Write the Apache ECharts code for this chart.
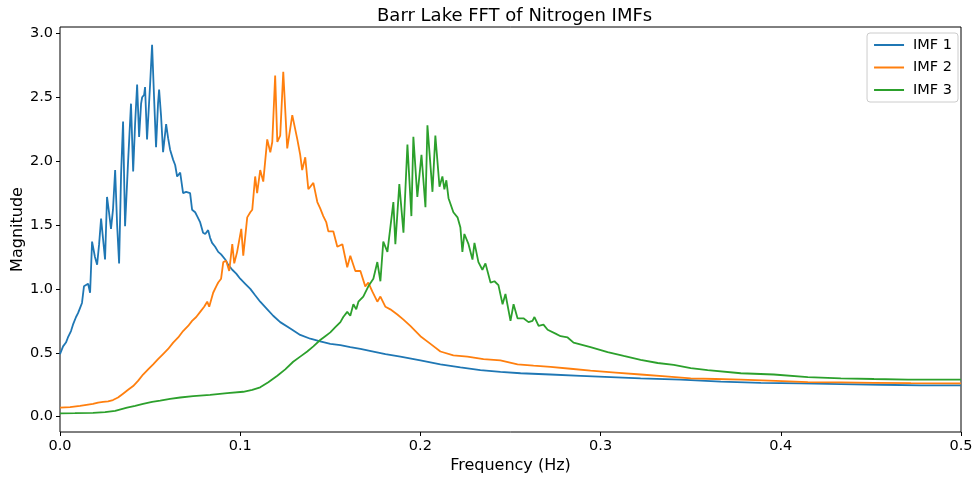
<!DOCTYPE html>
<html>
<head>
<meta charset="utf-8">
<script src="https://cdn.jsdelivr.net/npm/echarts@6/dist/echarts.min.js"></script>
<style>
  html, body { margin: 0; padding: 0; background: #fff; }
  #chart { width: 976px; height: 482px; }
</style>
</head>
<body>
<div id="chart"></div>
<script>
// ---- Data ----
const titleText = 'Barr Lake FFT of Nitrogen IMFs';
const xAxisTitle = 'Frequency (Hz)';
const yAxisTitle = 'Magnitude';
const seriesNames = ['IMF 1', 'IMF 2', 'IMF 3'];
const xTicks = [0, 0.1, 0.2, 0.3, 0.4, 0.5];
const yTicks = [0, 0.5, 1.0, 1.5, 2.0, 2.5, 3.0];

const imf1Freq = [0.0000,0.0017,0.0033,0.0044,0.0061,0.0072,0.0089,0.0100,0.0111,0.0122,0.0133,0.0144,0.0156,0.0167,0.0178,0.0194,0.0206,0.0217,0.0228,0.0239,0.0250,0.0261,0.0272,0.0283,0.0294,0.0306,0.0317,0.0328,0.0339,0.0350,0.0361,0.0378,0.0394,0.0406,0.0417,0.0428,0.0439,0.0450,0.0456,0.0467,0.0472,0.0483,0.0500,0.0511,0.0522,0.0533,0.0544,0.0550,0.0561,0.0572,0.0589,0.0600,0.0611,0.0628,0.0639,0.0650,0.0667,0.0683,0.0700,0.0722,0.0733,0.0750,0.0761,0.0778,0.0794,0.0806,0.0822,0.0833,0.0844,0.0861,0.0878,0.0894,0.0917,0.0933,0.0956,0.0978,0.1000,0.1028,0.1056,0.1083,0.1111,0.1144,0.1183,0.1222,0.1278,0.1333,0.1389,0.1444,0.1500,0.1556,0.1611,0.1667,0.1739,0.1806,0.1889,0.2000,0.2111,0.2222,0.2333,0.2444,0.2556,0.2722,0.2889,0.3056,0.3222,0.3444,0.3667,0.3889,0.4111,0.4333,0.4556,0.4778,0.5000];
const imf1Mag = [0.49,0.55,0.58,0.62,0.67,0.72,0.78,0.81,0.85,0.89,1.02,1.01,1.04,0.97,1.37,1.25,1.19,1.35,1.55,1.56,1.23,1.72,1.60,1.47,1.62,1.93,1.50,1.20,1.90,2.31,1.49,2.00,2.45,1.92,2.30,2.60,2.19,2.45,2.50,2.52,2.58,2.17,2.60,2.91,2.50,2.11,2.45,2.56,2.35,2.07,2.29,2.18,2.09,2.01,1.97,1.88,1.91,1.75,1.76,1.75,1.62,1.60,1.57,1.52,1.44,1.43,1.46,1.40,1.36,1.33,1.29,1.27,1.23,1.19,1.15,1.12,1.08,1.04,1.00,0.95,0.90,0.85,0.79,0.74,0.69,0.64,0.61,0.59,0.57,0.56,0.545,0.53,0.51,0.49,0.47,0.44,0.41,0.385,0.365,0.35,0.34,0.33,0.32,0.31,0.30,0.29,0.275,0.265,0.26,0.255,0.25,0.245,0.245];

const imf2Freq = [0.0000,0.0056,0.0111,0.0156,0.0183,0.0211,0.0239,0.0267,0.0294,0.0322,0.0350,0.0378,0.0406,0.0433,0.0461,0.0489,0.0517,0.0544,0.0572,0.0600,0.0628,0.0656,0.0683,0.0711,0.0733,0.0756,0.0778,0.0800,0.0817,0.0828,0.0850,0.0867,0.0878,0.0894,0.0906,0.0922,0.0939,0.0956,0.0967,0.0983,0.1006,0.1017,0.1039,0.1056,0.1067,0.1083,0.1094,0.1111,0.1128,0.1150,0.1167,0.1178,0.1194,0.1206,0.1222,0.1239,0.1261,0.1289,0.1317,0.1333,0.1344,0.1361,0.1378,0.1406,0.1428,0.1444,0.1461,0.1478,0.1489,0.1517,0.1539,0.1567,0.1594,0.1611,0.1639,0.1667,0.1694,0.1711,0.1733,0.1761,0.1778,0.1806,0.1833,0.1872,0.1906,0.1944,0.2000,0.2056,0.2111,0.2183,0.2261,0.2350,0.2444,0.2539,0.2628,0.2722,0.2833,0.2944,0.3083,0.3222,0.3361,0.3500,0.3639,0.3778,0.3972,0.4150,0.4333,0.4517,0.4722,0.5000];
const imf2Mag = [0.07,0.075,0.085,0.095,0.10,0.11,0.115,0.12,0.13,0.15,0.18,0.21,0.24,0.28,0.33,0.37,0.41,0.45,0.49,0.53,0.58,0.62,0.67,0.71,0.75,0.78,0.82,0.86,0.90,0.86,0.97,1.02,1.05,1.08,1.21,1.22,1.14,1.35,1.20,1.29,1.47,1.26,1.56,1.60,1.62,1.88,1.75,1.93,1.84,2.17,2.07,2.15,2.67,2.15,2.20,2.70,2.10,2.36,2.17,2.05,1.93,2.03,1.78,1.83,1.68,1.63,1.57,1.52,1.45,1.45,1.33,1.35,1.17,1.26,1.14,1.14,1.02,1.05,0.98,0.90,0.94,0.86,0.84,0.80,0.76,0.71,0.63,0.57,0.51,0.48,0.47,0.45,0.44,0.41,0.40,0.39,0.375,0.36,0.345,0.33,0.315,0.30,0.295,0.29,0.28,0.27,0.268,0.265,0.262,0.26];

const imf3Freq = [0.0000,0.0083,0.0183,0.0250,0.0306,0.0372,0.0417,0.0461,0.0511,0.0556,0.0611,0.0667,0.0739,0.0833,0.0928,0.1017,0.1067,0.1111,0.1156,0.1206,0.1250,0.1294,0.1333,0.1372,0.1406,0.1444,0.1472,0.1500,0.1528,0.1556,0.1572,0.1594,0.1611,0.1628,0.1644,0.1656,0.1683,0.1711,0.1739,0.1761,0.1778,0.1794,0.1817,0.1850,0.1861,0.1883,0.1906,0.1928,0.1950,0.1961,0.1983,0.2006,0.2028,0.2039,0.2067,0.2083,0.2106,0.2122,0.2133,0.2144,0.2156,0.2183,0.2206,0.2222,0.2233,0.2244,0.2267,0.2289,0.2300,0.2322,0.2344,0.2361,0.2389,0.2411,0.2433,0.2456,0.2472,0.2500,0.2517,0.2539,0.2572,0.2600,0.2622,0.2633,0.2656,0.2683,0.2706,0.2750,0.2778,0.2817,0.2850,0.2944,0.3039,0.3128,0.3222,0.3317,0.3406,0.3500,0.3594,0.3778,0.3961,0.4150,0.4333,0.4517,0.4706,0.5000];
const imf3Mag = [0.025,0.027,0.03,0.035,0.045,0.07,0.085,0.10,0.115,0.125,0.14,0.15,0.16,0.17,0.185,0.195,0.21,0.23,0.27,0.32,0.37,0.43,0.47,0.51,0.55,0.60,0.63,0.66,0.70,0.74,0.78,0.82,0.79,0.88,0.84,0.90,0.94,1.02,1.08,1.21,1.06,1.37,1.29,1.68,1.35,1.82,1.44,2.13,1.57,2.19,1.72,2.05,1.64,2.28,1.76,2.20,1.80,1.88,1.78,1.85,1.71,1.60,1.56,1.48,1.29,1.43,1.35,1.23,1.36,1.21,1.15,1.20,1.05,1.06,1.03,0.88,0.96,0.75,0.88,0.77,0.77,0.74,0.75,0.78,0.71,0.72,0.68,0.65,0.63,0.62,0.58,0.545,0.505,0.475,0.445,0.42,0.405,0.38,0.365,0.34,0.33,0.31,0.30,0.295,0.29,0.29];

const colors = ['#1f77b4', '#ff7f0e', '#2ca02c'];

// ---- Build chart ----
function zip(xs, ys) { return xs.map((x, i) => [x, ys[i]]); }
const allFreq = [imf1Freq, imf2Freq, imf3Freq];
const allMag = [imf1Mag, imf2Mag, imf3Mag];

const font = 'DejaVu Sans';
const chart = echarts.init(document.getElementById('chart'), null, { renderer: 'canvas' });
chart.setOption({
  animation: false,
  backgroundColor: '#ffffff',
  color: colors,
  textStyle: { fontFamily: font },
  title: {
    text: titleText,
    left: 372,
    top: 2,
    textStyle: { fontFamily: font, fontSize: 18, fontWeight: 'normal', color: '#000' }
  },
  grid: {
    left: 60, right: 15, top: 27, bottom: 50,
    containLabel: false,
    outerBoundsMode: 'none',
    show: true, borderColor: '#000', borderWidth: 1, backgroundColor: 'transparent'
  },
  legend: {
    orient: 'vertical',
    right: 18,
    top: 33,
    padding: [4, 6, 4, 7],
    itemGap: 6.5,
    itemWidth: 30,
    itemHeight: 2,
    icon: 'rect',
    borderColor: '#cccccc',
    borderWidth: 1,
    borderRadius: 3,
    backgroundColor: 'rgba(255,255,255,0.8)',
    textStyle: { fontFamily: font, fontSize: 14.5, color: '#000', lineHeight: 16, padding: [0, 0, 0, 4] },
    data: seriesNames
  },
  xAxis: {
    type: 'value',
    min: xTicks[0],
    max: xTicks[xTicks.length - 1],
    interval: 0.1,
    name: xAxisTitle,
    nameLocation: 'middle',
    nameGap: 26,
    nameMoveOverlap: false,
    nameTextStyle: { fontFamily: font, fontSize: 16, color: '#000' },
    axisLine: { show: false, onZero: false },
    axisTick: { show: true, inside: false, length: 4, lineStyle: { color: '#000' } },
    axisLabel: { fontFamily: font, fontSize: 14.5, color: '#000', margin: 7, formatter: v => v.toFixed(1) },
    splitLine: { show: false }
  },
  yAxis: {
    type: 'value',
    min: -0.12,
    max: 3.05,
    name: yAxisTitle,
    nameLocation: 'middle',
    nameGap: 34,
    nameMoveOverlap: false,
    nameRotate: 90,
    nameTextStyle: { fontFamily: font, fontSize: 16, color: '#000' },
    axisLine: { show: false, onZero: false },
    axisTick: { show: true, inside: false, length: 4, lineStyle: { color: '#000' }, customValues: yTicks },
    axisLabel: { fontFamily: font, fontSize: 14.5, color: '#000', margin: 7, customValues: yTicks, formatter: v => Number(v).toFixed(1) },
    splitLine: { show: false }
  },
  series: seriesNames.map((name, i) => ({
    name: name,
    type: 'line',
    data: zip(allFreq[i], allMag[i]),
    showSymbol: false,
    symbol: 'none',
    lineStyle: { width: 1.8, color: colors[i] },
    itemStyle: { color: colors[i] },
    z: 2 + i
  }))
});
</script>
</body>
</html>
